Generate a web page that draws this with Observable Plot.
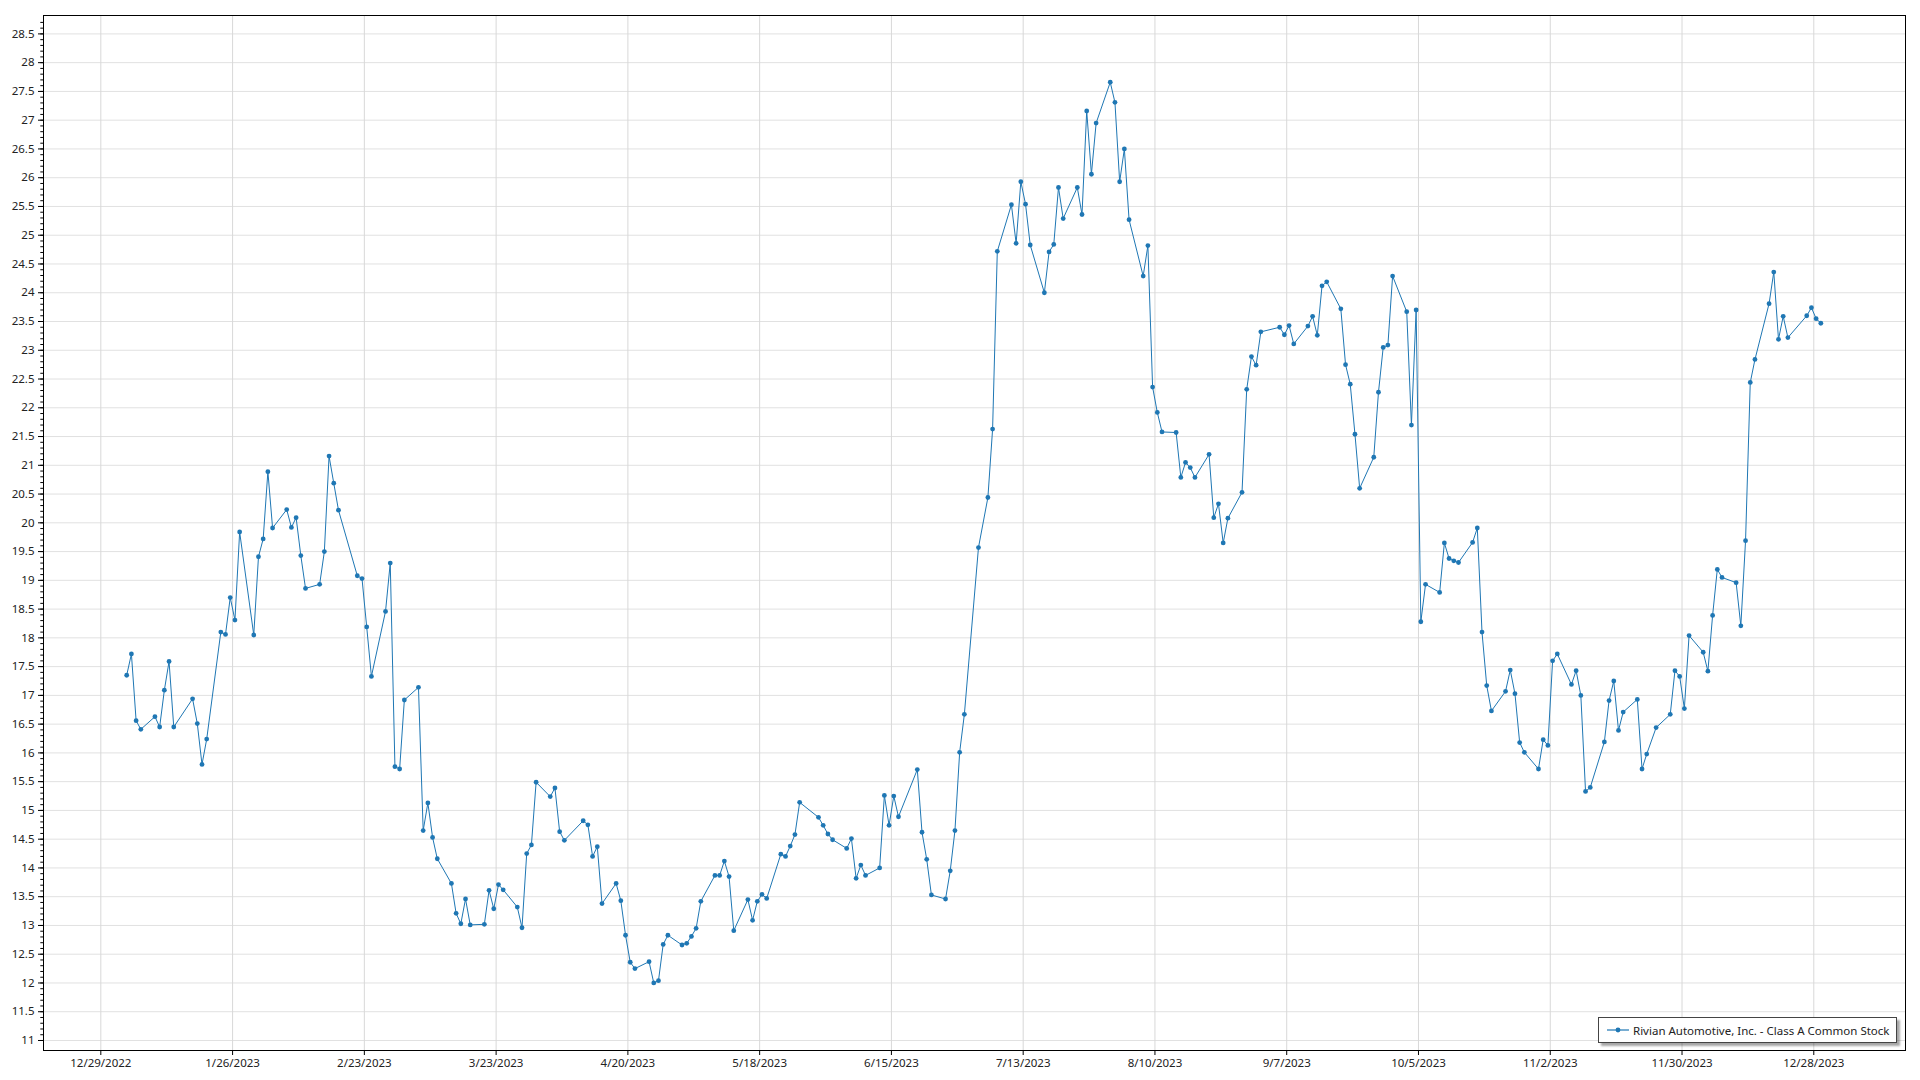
<!DOCTYPE html>
<html><head><meta charset="utf-8">
<script src="https://cdn.jsdelivr.net/npm/d3@7"></script>
<script src="https://cdn.jsdelivr.net/npm/@observablehq/plot@0.6"></script>
<style>
html,body{margin:0;padding:0;background:#fff;}
#wrap{position:relative;width:1920px;height:1080px;}
#legend{position:absolute;left:1598px;top:1017px;width:299px;height:26px;box-sizing:border-box;border:1px solid #444;background:#fff;box-shadow:3px 3px 2px rgba(0,0,0,0.35);font:11.5px "Noto Sans",sans-serif;color:#222;display:flex;align-items:center;white-space:nowrap;}
#legend svg{margin-left:8px;margin-right:4px;}
</style></head><body><div id="wrap"></div>
<script>
// Trading days (day of month) and closing prices per month, 2023
const daysJan = [3,4,5,6,9,10,11,12,13,17,18,19,20,23,24,25,26,27,30,31];
const closeJan = [17.35,17.72,16.56,16.41,16.63,16.45,17.09,17.59,16.45,16.94,16.51,15.80,16.24,18.10,18.06,18.70,18.31,19.84,18.05,19.41];
const daysFeb = [1,2,3,6,7,8,9,10,13,14,15,16,17,21,22,23,24,27,28];
const closeFeb = [19.72,20.89,19.91,20.23,19.92,20.09,19.43,18.86,18.93,19.50,21.16,20.69,20.22,19.08,19.03,18.19,17.33,18.46,19.30];
const daysMar = [1,2,3,6,7,8,9,10,13,14,15,16,17,20,21,22,23,24,27,28,29,30,31];
const closeMar = [15.76,15.72,16.92,17.14,14.65,15.13,14.53,14.16,13.73,13.21,13.03,13.46,13.01,13.02,13.61,13.29,13.71,13.62,13.32,12.96,14.25,14.40,15.49];
const daysApr = [3,4,5,6,10,11,12,13,14,17,18,19,20,21,24,25,26,27,28];
const closeApr = [15.24,15.39,14.63,14.48,14.82,14.75,14.20,14.37,13.38,13.73,13.43,12.83,12.36,12.25,12.37,12.00,12.04,12.67,12.83];
const daysMay = [1,2,3,4,5,8,9,10,11,12,15,16,17,18,19,22,23,24,25,26,30,31];
const closeMay = [12.66,12.69,12.81,12.95,13.42,13.87,13.87,14.12,13.85,12.91,13.45,13.09,13.42,13.54,13.47,14.24,14.20,14.38,14.58,15.14,14.88,14.74];
const daysJun = [1,2,5,6,7,8,9,12,13,14,15,16,20,21,22,23,26,27,28,29,30];
const closeJun = [14.59,14.49,14.34,14.51,13.82,14.05,13.87,14.00,15.26,14.74,15.25,14.89,15.71,14.62,14.15,13.53,13.46,13.95,14.65,16.01,16.67];
const daysJul = [3,5,6,7,10,11,12,13,14,17,18,19,20,21,24,25,26,27,28,31];
const closeJul = [19.57,20.44,21.63,24.72,25.53,24.86,25.93,25.54,24.83,24.00,24.71,24.84,25.83,25.29,25.83,25.36,27.16,26.06,26.95,27.66];
const daysAug = [1,2,3,4,7,8,9,10,11,14,15,16,17,18,21,22,23,24,25,28,29,30,31];
const closeAug = [27.31,25.93,26.50,25.27,24.29,24.82,22.36,21.92,21.58,21.57,20.79,21.05,20.96,20.79,21.19,20.09,20.33,19.65,20.08,20.53,22.32,22.89,22.74];
const daysSep = [1,5,6,7,8,11,12,13,14,15,18,19,20,21,22,25,26,27,28,29];
const closeSep = [23.32,23.40,23.27,23.43,23.11,23.42,23.59,23.26,24.12,24.19,23.72,22.75,22.41,21.54,20.60,21.14,22.27,23.05,23.09,24.29];
const daysOct = [2,3,4,5,6,9,10,11,12,13,16,17,18,19,20,23,24,25,26,27,30,31];
const closeOct = [23.67,21.70,23.70,18.28,18.93,18.79,19.65,19.38,19.34,19.31,19.66,19.91,18.10,17.17,16.73,17.07,17.44,17.03,16.18,16.01,15.72,16.23];
const daysNov = [1,2,3,6,7,8,9,10,13,14,15,16,17,20,21,22,24,27,28,29,30];
const closeNov = [16.13,17.60,17.72,17.19,17.43,17.00,15.33,15.40,16.19,16.91,17.25,16.39,16.71,16.93,15.72,15.98,16.44,16.67,17.43,17.33,16.77];
const daysDec = [1,4,5,6,7,8,11,12,13,14,15,18,19,20,21,22,26,27,28,29];
const closeDec = [18.04,17.75,17.42,18.39,19.19,19.05,18.96,18.21,19.69,22.44,22.84,23.81,24.36,23.19,23.59,23.22,23.60,23.74,23.55,23.47];

const xTickLabels = ["12/29/2022","1/26/2023","2/23/2023","3/23/2023","4/20/2023","5/18/2023","6/15/2023","7/13/2023","8/10/2023","9/7/2023","10/5/2023","11/2/2023","11/30/2023","12/28/2023"];
const seriesName = "Rivian Automotive, Inc. - Class A Common Stock";

const monthSeries = [daysJan,daysFeb,daysMar,daysApr,daysMay,daysJun,daysJul,daysAug,daysSep,daysOct,daysNov,daysDec];
const monthCloses = [closeJan,closeFeb,closeMar,closeApr,closeMay,closeJun,closeJul,closeAug,closeSep,closeOct,closeNov,closeDec];
const data = [];
monthSeries.forEach((days, m) => days.forEach((d, i) => {
  data.push({date: new Date(Date.UTC(2023, m, d, 12)), close: monthCloses[m][i]});
}));

const parseMDY = s => { const [m, d, y] = s.split("/").map(Number); return new Date(Date.UTC(y, m - 1, d)); };
const xTicks = xTickLabels.map(parseMDY);
const fmtMDY = d => `${d.getUTCMonth() + 1}/${d.getUTCDate()}/${d.getUTCFullYear()}`;

const yMajor = d3.range(11, 28.51, 0.5);
const yMinor = d3.range(110, 288, 1).map(v => v / 10);

const color = "#1f77b4";
const chart = Plot.plot({
  width: 1920,
  height: 1080,
  marginLeft: 43,
  marginRight: 15,
  marginTop: 15,
  marginBottom: 30,
  style: {fontFamily: "'Noto Sans', sans-serif", fontSize: "11.5px", color: "#222", background: "#fff"},
  x: {type: "utc", domain: [new Date(Date.UTC(2022, 11, 16, 19, 40)), new Date(Date.UTC(2024, 0, 16, 11, 45))]},
  y: {domain: [10.826, 28.82]},
  marks: [
    Plot.gridY(yMajor, {stroke: "#e1e1e1", strokeOpacity: 1}),
    Plot.gridX(xTicks, {stroke: "#d8d8d8", strokeOpacity: 1}),
    Plot.axisY(yMinor, {tickSize: 2.7, tickFormat: () => "", label: null, stroke: "#000"}),
    Plot.axisY(yMajor, {tickSize: 5, tickPadding: 4, tickFormat: d => String(d), label: null, stroke: "#000"}),
    Plot.axisX(xTicks, {tickSize: 5, tickPadding: 3, tickFormat: fmtMDY, label: null, stroke: "#000"}),
    Plot.lineY(data, {x: "date", y: "close", stroke: color, strokeWidth: 1}),
    Plot.dot(data, {x: "date", y: "close", r: 2.4, fill: color, stroke: "none"}),
    Plot.frame({stroke: "#000", strokeWidth: 1})
  ]
});
const wrap = document.getElementById("wrap");
wrap.appendChild(chart);

const legend = document.createElement("div");
legend.id = "legend";
legend.innerHTML = `<svg width="22" height="10"><line x1="0" y1="5" x2="22" y2="5" stroke="${color}" stroke-width="1.2"/><circle cx="11" cy="5" r="2.4" fill="${color}"/></svg><span></span>`;
legend.querySelector("span").textContent = seriesName;
wrap.appendChild(legend);
</script></body></html>
